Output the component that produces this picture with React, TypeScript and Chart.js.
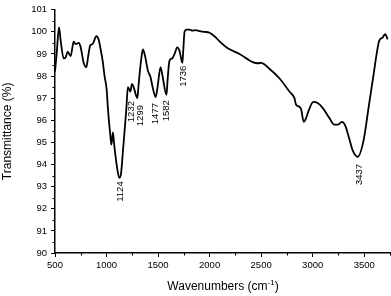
import React, { useEffect, useRef } from "react";
import { Chart, registerables } from "chart.js";

Chart.register(...registerables);

const wavenumbers = [
  500, 516, 539, 555, 584, 604, 623, 652, 681, 701, 730, 749, 778, 804, 822, 843, 865, 901, 923, 943,
  962, 981, 1001, 1014, 1037, 1047, 1062, 1072, 1098, 1124, 1141, 1159, 1192, 1207, 1232, 1246, 1263,
  1299, 1311, 1330, 1353, 1374, 1401, 1427, 1447, 1477, 1495, 1524, 1543, 1582, 1592, 1611, 1637,
  1660, 1686, 1708, 1736, 1745, 1757, 1776, 1805, 1834, 1863, 1902, 1951, 1999, 2047, 2112, 2176,
  2290, 2419, 2467, 2500, 2580, 2677, 2774, 2823, 2839, 2864, 2888, 2913, 2936, 2958, 3007, 3048,
  3097, 3162, 3210, 3242, 3285, 3317, 3356, 3388, 3437, 3490, 3549, 3597, 3623, 3646, 3678, 3704, 3727,
];
const transmittance = [
  98.2, 99.0, 100.2, 99.6, 98.8, 98.85, 99.1, 98.9, 99.55, 99.45, 99.5, 99.3, 98.6, 98.4, 98.9, 99.4,
  99.45, 99.8, 99.65, 99.2, 98.7, 98.0, 97.4, 96.5, 95.3, 94.9, 95.45, 95.0, 94.0, 93.4, 93.6, 94.6,
  96.5, 97.5, 97.3, 97.65, 97.5, 97.0, 97.6, 98.5, 99.2, 98.9, 98.25, 97.95, 97.5, 97.05, 97.5, 98.4,
  98.0, 97.15, 97.8, 98.7, 98.8, 99.0, 99.3, 99.15, 98.6, 99.2, 100.0, 100.1, 100.1, 100.05, 100.08,
  100.03, 100.0, 99.96, 99.8, 99.5, 99.26, 99.0, 98.63, 98.58, 98.6, 98.33, 97.9, 97.3, 97.0, 96.7,
  96.63, 96.5, 95.93, 96.1, 96.4, 96.83, 96.78, 96.56, 96.1, 95.8, 95.8, 95.93, 95.75, 95.15, 94.64,
  94.35, 95.0, 96.78, 98.26, 99.07, 99.6, 99.74, 99.9, 99.66,
];

const peakLabels = ["1124", "1232", "1299", "1477", "1582", "1736", "3437"];
const peakLabelX = [1126, 1234, 1324, 1465, 1572, 1741, 3444];
const peakLabelY = [93.24, 96.87, 96.69, 96.78, 96.91, 98.47, 94.03];

const xTickValues = [500, 1000, 1500, 2000, 2500, 3000, 3500];
const xMinorValues = [750, 1250, 1750, 2250, 2750, 3250, 3750];
const yTickValues = [90, 91, 92, 93, 94, 95, 96, 97, 98, 99, 100, 101];
const yMinorValues = [90.5, 91.5, 92.5, 93.5, 94.5, 95.5, 96.5, 97.5, 98.5, 99.5, 100.5];

const xTitle = "Wavenumbers (cm";
const xTitleSup = "-1";
const xTitleEnd = ")";
const yTitle = "Transmittance (%)";

const FONT = '"Liberation Sans", Arial, sans-serif';

const decorPlugin = {
  id: "decor",
  afterDraw(chart: any) {
    const ctx = chart.ctx;
    const xs = chart.scales.x;
    const ys = chart.scales.y;
    const area = chart.chartArea;
    ctx.save();
    ctx.strokeStyle = "#000";
    ctx.lineWidth = 1;
    ctx.beginPath();
    xMinorValues.forEach((v) => {
      const px = Math.round(xs.getPixelForValue(v)) + 0.5;
      ctx.moveTo(px, area.bottom);
      ctx.lineTo(px, area.bottom + 2.5);
    });
    yMinorValues.forEach((v) => {
      const py = Math.round(ys.getPixelForValue(v)) + 0.5;
      ctx.moveTo(area.left, py);
      ctx.lineTo(area.left - 2.5, py);
    });
    ctx.stroke();

    // peak labels (rotated, reading bottom to top, top end anchored below the band)
    ctx.fillStyle = "#000";
    ctx.font = "9.5px " + FONT;
    ctx.textAlign = "right";
    ctx.textBaseline = "alphabetic";
    peakLabels.forEach((t, i) => {
      const px = xs.getPixelForValue(peakLabelX[i]);
      const py = ys.getPixelForValue(peakLabelY[i]);
      ctx.save();
      ctx.translate(px, py);
      ctx.rotate(-Math.PI / 2);
      ctx.fillText(t, 0, 3.4);
      ctx.restore();
    });

    // y title
    ctx.font = "12px " + FONT;
    ctx.textAlign = "center";
    ctx.textBaseline = "middle";
    ctx.save();
    ctx.translate(8, (area.top + area.bottom) / 2);
    ctx.rotate(-Math.PI / 2);
    ctx.fillText(yTitle, 0, 0);
    ctx.restore();

    // x title with superscript
    ctx.textAlign = "left";
    ctx.textBaseline = "alphabetic";
    ctx.font = "12px " + FONT;
    const w1 = ctx.measureText(xTitle).width;
    const w3 = ctx.measureText(xTitleEnd).width;
    ctx.font = "8px " + FONT;
    const w2 = ctx.measureText(xTitleSup).width;
    const total = w1 + w2 + w3;
    const cx = (area.left + area.right) / 2;
    const x0 = cx - total / 2;
    const base = 290;
    ctx.font = "12px " + FONT;
    ctx.fillText(xTitle, x0, base);
    ctx.font = "8px " + FONT;
    ctx.fillText(xTitleSup, x0 + w1, base - 5);
    ctx.font = "12px " + FONT;
    ctx.fillText(xTitleEnd, x0 + w1 + w2, base);
    ctx.restore();
  },
};

export default function App() {
  const ref = useRef<HTMLCanvasElement | null>(null);
  useEffect(() => {
    if (!ref.current) return;
    const points = wavenumbers.map((x, i) => ({ x, y: transmittance[i] }));
    const chart = new Chart(ref.current, {
      type: "line",
      data: {
        datasets: [
          {
            data: points,
            borderColor: "#000",
            borderWidth: 1.8,
            pointRadius: 0,
            cubicInterpolationMode: "monotone",
            fill: false,
          },
        ],
      },
      options: {
        animation: false,
        responsive: false,
        maintainAspectRatio: false,
        layout: { padding: { top: 5, right: 0, left: 0, bottom: 0 } },
        plugins: { legend: { display: false }, tooltip: { enabled: false } },
        scales: {
          x: {
            type: "linear",
            min: 500,
            max: 3760,
            afterBuildTicks: (scale: any) => {
              scale.ticks = xTickValues.map((v) => ({ value: v }));
            },
            afterFit: (scale: any) => {
              scale.height = 43;
            },
            ticks: {
              color: "#000",
              font: { family: FONT, size: 9.5 },
              padding: 3,
              maxRotation: 0,
              autoSkip: false,
              callback: (v: any) => String(v),
            },
            grid: { drawOnChartArea: false, drawTicks: true, tickLength: 4, color: "#000", lineWidth: 1 },
            border: { display: true, color: "#000", width: 1.5 },
          },
          y: {
            type: "linear",
            min: 90,
            max: 101,
            afterBuildTicks: (scale: any) => {
              scale.ticks = yTickValues.map((v) => ({ value: v }));
            },
            afterFit: (scale: any) => {
              scale.width = 55;
            },
            ticks: {
              color: "#000",
              font: { family: FONT, size: 9.5 },
              padding: 4,
              autoSkip: false,
              callback: (v: any) => String(v),
            },
            grid: { drawOnChartArea: false, drawTicks: true, tickLength: 4, color: "#000", lineWidth: 1 },
            border: { display: true, color: "#000", width: 1.5 },
          },
        },
      },
      plugins: [decorPlugin],
    } as any);
    return () => chart.destroy();
  }, []);
  return (
    <div style={{ position: "fixed", left: 0, top: 0, width: 391, height: 296, background: "#fff" }}>
      <canvas ref={ref} width={391} height={296} style={{ width: 391, height: 296, display: "block" }} />
    </div>
  );
}
